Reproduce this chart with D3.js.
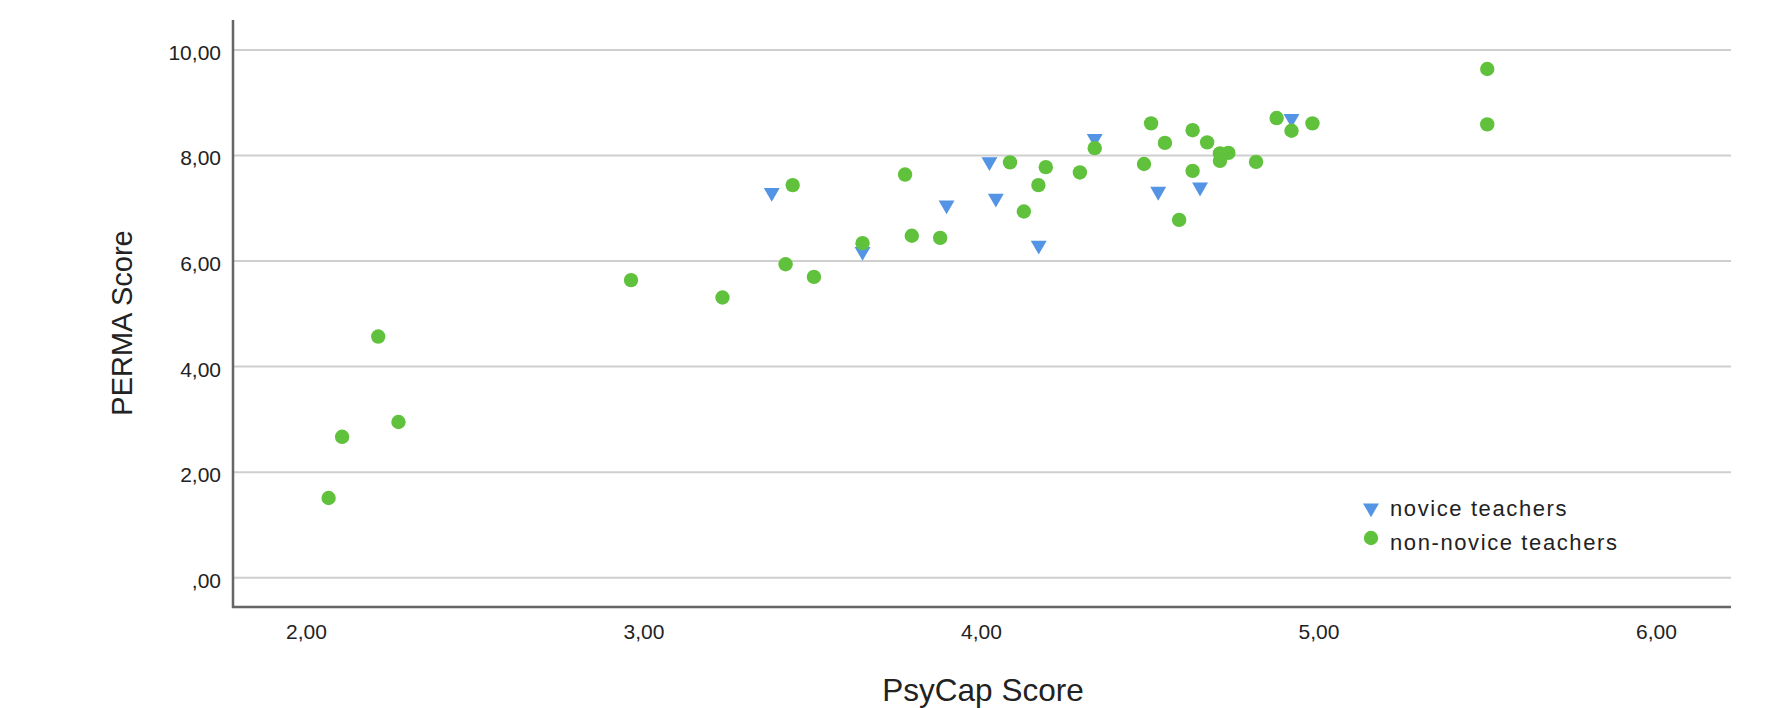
<!DOCTYPE html>
<html><head><meta charset="utf-8">
<script src="https://cdn.jsdelivr.net/npm/d3@7"></script>
<style>body{margin:0;background:#fff}svg{display:block}text{font-family:"Liberation Sans",Arial,sans-serif;fill:#222}</style>
</head><body><svg id="c" width="1770" height="708"></svg>
<script>
const seriesNames = ["novice teachers", "non-novice teachers"];
const noviceX = [3.38, 3.649, 3.898, 4.025, 4.044, 4.171, 4.337, 4.525, 4.649, 4.92];
const noviceY = [7.30, 6.18, 7.06, 7.88, 7.19, 6.30, 8.32, 7.32, 7.40, 8.70];
const nonNoviceX = [2.067, 2.107, 2.214, 2.274, 2.963, 3.234, 3.421, 3.442, 3.505, 3.649, 3.775, 3.795, 3.879, 4.086, 4.127, 4.17, 4.192, 4.293, 4.337, 4.483, 4.504, 4.545, 4.587, 4.627, 4.627, 4.67, 4.708, 4.708, 4.733, 4.815, 4.876, 4.92, 4.982, 5.50, 5.50];
const nonNoviceY = [1.51, 2.67, 4.57, 2.95, 5.64, 5.31, 5.94, 7.44, 5.70, 6.34, 7.64, 6.48, 6.44, 7.87, 6.94, 7.44, 7.78, 7.68, 8.14, 7.84, 8.61, 8.24, 6.78, 8.48, 7.71, 8.25, 8.04, 7.90, 8.05, 7.88, 8.71, 8.47, 8.61, 9.64, 8.59];
const xTicks = [2, 3, 4, 5, 6];
const yTicks = [0, 2, 4, 6, 8, 10];
const xTitle = "PsyCap Score", yTitle = "PERMA Score";

const svg = d3.select("#c");
const L = 233, R = 1731, T = 20, B = 607;
const x = d3.scaleLinear().domain([2, 6]).range([306, 1656]);
const y = d3.scaleLinear().domain([0, 10]).range([577.7, 50]);
const fmt = v => (v === 0 ? "" : String(v)) + ",00";
const blue = "#5394e4", green = "#60c23c";

// gridlines
svg.append("g").selectAll("line").data(yTicks).join("line")
  .attr("x1", L).attr("x2", R).attr("y1", d => y(d)).attr("y2", d => y(d))
  .attr("stroke", "#cfcfcf").attr("stroke-width", 2);

// axes
const ya = svg.append("g").attr("transform", `translate(${L},0)`)
  .call(d3.axisLeft(y).tickValues(yTicks).tickFormat(fmt).tickSize(0).tickPadding(12));
ya.select(".domain").remove();
const xa = svg.append("g").attr("transform", `translate(0,${B})`)
  .call(d3.axisBottom(x).tickValues(xTicks).tickFormat(fmt).tickSize(0).tickPadding(17));
xa.select(".domain").remove();
svg.selectAll(".tick text").attr("font-size", 21).attr("fill", "#222")
  .attr("font-family", "Liberation Sans, Arial, sans-serif");
ya.selectAll(".tick text").attr("dy", "0.45em");

svg.append("line").attr("x1", L).attr("x2", L).attr("y1", T).attr("y2", B + 1).attr("stroke", "#666").attr("stroke-width", 2.5);
svg.append("line").attr("x1", L - 1).attr("x2", R).attr("y1", B).attr("y2", B).attr("stroke", "#666").attr("stroke-width", 2.5);

// titles
svg.append("text").attr("x", 983).attr("y", 701).attr("text-anchor", "middle").attr("font-size", 31.5).attr("fill", "#333").text(xTitle);
svg.append("text").attr("transform", "translate(132,323) rotate(-90)").attr("text-anchor", "middle").attr("font-size", 29).attr("fill", "#333").text(yTitle);

// marks
const tri = d3.symbol().type(d3.symbolTriangle).size(110);
const nn = nonNoviceX.map((v, i) => [v, nonNoviceY[i]]);
const nv = noviceX.map((v, i) => [v, noviceY[i]]);
svg.append("g").selectAll("path").data(nv).join("path")
  .attr("d", tri).attr("fill", blue)
  .attr("transform", d => `translate(${x(d[0])},${y(d[1])}) rotate(180)`);
svg.append("g").selectAll("circle").data(nn).join("circle")
  .attr("cx", d => x(d[0])).attr("cy", d => y(d[1])).attr("r", 7.2).attr("fill", green);

// legend
const lg = svg.append("g");
lg.append("path").attr("d", tri).attr("fill", blue).attr("transform", "translate(1371,508) rotate(180)");
lg.append("circle").attr("cx", 1371).attr("cy", 538).attr("r", 7.2).attr("fill", green);
lg.append("text").attr("x", 1390).attr("y", 516).attr("font-size", 22).attr("letter-spacing", 1.6).attr("fill", "#222").text(seriesNames[0]);
lg.append("text").attr("x", 1390).attr("y", 550).attr("font-size", 22).attr("letter-spacing", 1.6).attr("fill", "#222").text(seriesNames[1]);
</script></body></html>
